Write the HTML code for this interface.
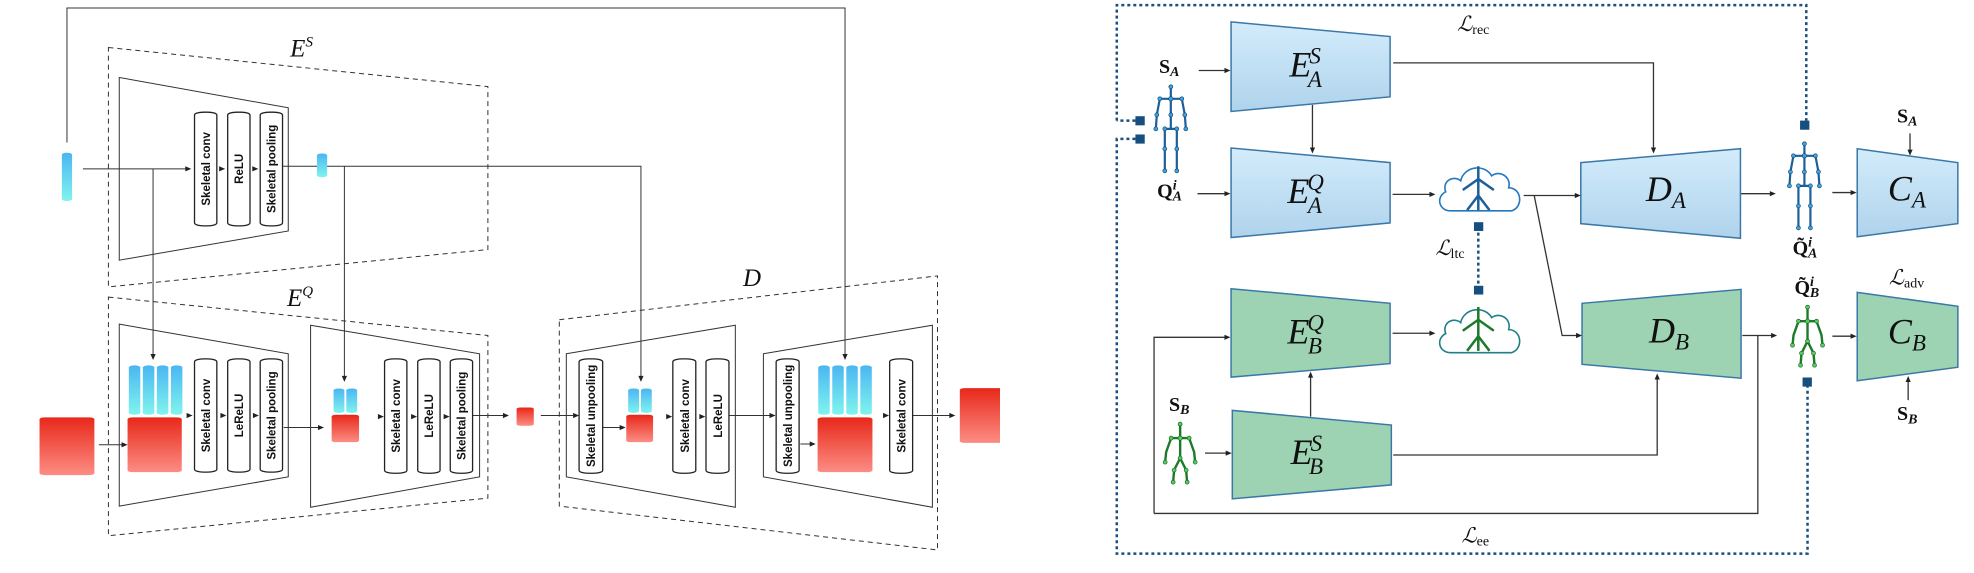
<!DOCTYPE html>
<html><head><meta charset="utf-8"><style>
html,body{margin:0;padding:0;background:#fff;}
svg{position:absolute;top:0;}
.v{font-family:"Liberation Sans",sans-serif;font-weight:bold;font-size:11.5px;fill:#111;}
.m{font-family:"Liberation Serif",serif;font-style:italic;fill:#111;}
.b{font-family:"Liberation Serif",serif;font-weight:bold;fill:#111;}
</style></head><body>
<svg width="1974" height="573" style="left:0" viewBox="0 0 1974 573">
<defs>
<linearGradient id="red" x1="0" y1="0" x2="0" y2="1"><stop offset="0" stop-color="#e8281a"/><stop offset="1" stop-color="#fc8d84"/></linearGradient>
<linearGradient id="blu" x1="0" y1="0" x2="0" y2="1"><stop offset="0" stop-color="#4ab6f2"/><stop offset="1" stop-color="#80f4ee"/></linearGradient>
<path id="ah" d="M0,0 L-6,-2.6 L-6,2.6Z" fill="#222"/>
</defs>
</svg>
<!-- LEFT -->
<svg width="1000" height="573" style="left:0" viewBox="0 0 1568 1568" preserveAspectRatio="none">
<g fill="none" stroke="#333" stroke-width="1">
<polyline points="105,390 105,22 1325,22 1325,980" vector-effect="non-scaling-stroke"/>
<polyline points="130,462 295,462" vector-effect="non-scaling-stroke"/>
<polyline points="240,462 240,980" vector-effect="non-scaling-stroke"/>
<polyline points="443,455 1005,455 1005,1040" vector-effect="non-scaling-stroke"/>
<polyline points="540,455 540,1040" vector-effect="non-scaling-stroke"/>
<g stroke-dasharray="5,4">
<polygon points="170,130 765,237 765,683 170,785" vector-effect="non-scaling-stroke"/>
<polygon points="170,813 765,918 765,1363 170,1466" vector-effect="non-scaling-stroke"/>
<polygon points="877,875 1470,755 1470,1505 877,1385" vector-effect="non-scaling-stroke"/>
</g>
<polygon points="187,212 452,295 452,632 187,712" vector-effect="non-scaling-stroke"/>
<polygon points="187,887 452,968 452,1305 187,1385" vector-effect="non-scaling-stroke"/>
<polygon points="487,890 752,968 752,1305 487,1388" vector-effect="non-scaling-stroke"/>
<polygon points="888,968 1153,890 1153,1388 888,1305" vector-effect="non-scaling-stroke"/>
<polygon points="1197,968 1462,890 1462,1388 1197,1305" vector-effect="non-scaling-stroke"/>
<polyline points="155,1217 198,1217" vector-effect="non-scaling-stroke"/>
<polyline points="445,1170 505,1170" vector-effect="non-scaling-stroke"/>
<polyline points="741,1137 795,1137" vector-effect="non-scaling-stroke"/>
<polyline points="848,1137 905,1137" vector-effect="non-scaling-stroke"/>
<polyline points="945,1170 978,1170" vector-effect="non-scaling-stroke"/>
<polyline points="1143,1137 1215,1137" vector-effect="non-scaling-stroke"/>
<polyline points="1255,1215 1277,1215" vector-effect="non-scaling-stroke"/>
<polyline points="1431,1137 1495,1137" vector-effect="non-scaling-stroke"/>
</g>
<g fill="#fff" stroke="#222" stroke-width="1.3">
<rect x="305" y="307" width="35" height="311" rx="14" ry="8" vector-effect="non-scaling-stroke"/>
<rect x="357" y="307" width="35" height="311" rx="14" ry="8" vector-effect="non-scaling-stroke"/>
<rect x="408" y="307" width="35" height="311" rx="14" ry="8" vector-effect="non-scaling-stroke"/>
<rect x="305" y="982" width="35" height="310" rx="14" ry="8" vector-effect="non-scaling-stroke"/>
<rect x="357" y="982" width="35" height="310" rx="14" ry="8" vector-effect="non-scaling-stroke"/>
<rect x="408" y="982" width="35" height="310" rx="14" ry="8" vector-effect="non-scaling-stroke"/>
<rect x="603" y="982" width="35" height="313" rx="14" ry="8" vector-effect="non-scaling-stroke"/>
<rect x="655" y="982" width="35" height="313" rx="14" ry="8" vector-effect="non-scaling-stroke"/>
<rect x="706" y="982" width="35" height="313" rx="14" ry="8" vector-effect="non-scaling-stroke"/>
<rect x="908" y="982" width="37" height="313" rx="14" ry="8" vector-effect="non-scaling-stroke"/>
<rect x="1055" y="982" width="36" height="313" rx="14" ry="8" vector-effect="non-scaling-stroke"/>
<rect x="1107" y="982" width="36" height="313" rx="14" ry="8" vector-effect="non-scaling-stroke"/>
<rect x="1217" y="982" width="36" height="313" rx="14" ry="8" vector-effect="non-scaling-stroke"/>
<rect x="1395" y="982" width="36" height="313" rx="14" ry="8" vector-effect="non-scaling-stroke"/>
</g>
<g fill="url(#blu)">
<rect x="97" y="418" width="16" height="132" rx="8" ry="5"/>
<rect x="497" y="420" width="16" height="65" rx="8" ry="5"/>
<rect x="202" y="1000" width="18" height="135" rx="9" ry="5"/><rect x="224" y="1000" width="18" height="135" rx="9" ry="5"/><rect x="246" y="1000" width="18" height="135" rx="9" ry="5"/><rect x="268" y="1000" width="18" height="135" rx="9" ry="5"/>
<rect x="523" y="1063" width="17" height="67" rx="8" ry="5"/><rect x="543" y="1063" width="17" height="67" rx="8" ry="5"/>
<rect x="985" y="1063" width="17" height="67" rx="8" ry="5"/><rect x="1005" y="1063" width="17" height="67" rx="8" ry="5"/>
<rect x="1283" y="1000" width="18" height="135" rx="9" ry="5"/><rect x="1305" y="1000" width="18" height="135" rx="9" ry="5"/><rect x="1327" y="1000" width="18" height="135" rx="9" ry="5"/><rect x="1349" y="1000" width="18" height="135" rx="9" ry="5"/>
</g>
<g fill="url(#red)">
<rect x="62" y="1142" width="86" height="158" rx="8" ry="5"/>
<rect x="200" y="1142" width="85" height="150" rx="8" ry="5"/>
<rect x="520" y="1135" width="43" height="75" rx="7" ry="4"/>
<rect x="810" y="1115" width="27" height="50" rx="6" ry="4"/>
<rect x="982" y="1135" width="42" height="75" rx="7" ry="4"/>
<rect x="1282" y="1142" width="86" height="150" rx="8" ry="5"/>
<rect x="1505" y="1062" width="90" height="150" rx="8" ry="5"/>
</g>
<g>
<use href="#ah" transform="translate(300,462) scale(1.568,2.74)"/>
<use href="#ah" transform="translate(353,462) scale(1.568,2.74)"/>
<use href="#ah" transform="translate(405,462) scale(1.568,2.74)"/>
<use href="#ah" transform="translate(240,985) scale(1.568,2.74) rotate(90)"/>
<use href="#ah" transform="translate(540,1045) scale(1.568,2.74) rotate(90)"/>
<use href="#ah" transform="translate(1005,1045) scale(1.568,2.74) rotate(90)"/>
<use href="#ah" transform="translate(1325,985) scale(1.568,2.74) rotate(90)"/>
<use href="#ah" transform="translate(200,1217) scale(1.568,2.74)"/>
<use href="#ah" transform="translate(302,1137) scale(1.568,2.74)"/>
<use href="#ah" transform="translate(355,1137) scale(1.568,2.74)"/>
<use href="#ah" transform="translate(406,1137) scale(1.568,2.74)"/>
<use href="#ah" transform="translate(508,1170) scale(1.568,2.74)"/>
<use href="#ah" transform="translate(602,1140) scale(1.568,2.74)"/>
<use href="#ah" transform="translate(654,1140) scale(1.568,2.74)"/>
<use href="#ah" transform="translate(705,1140) scale(1.568,2.74)"/>
<use href="#ah" transform="translate(798,1137) scale(1.568,2.74)"/>
<use href="#ah" transform="translate(908,1137) scale(1.568,2.74)"/>
<use href="#ah" transform="translate(981,1170) scale(1.568,2.74)"/>
<use href="#ah" transform="translate(1054,1140) scale(1.568,2.74)"/>
<use href="#ah" transform="translate(1106,1140) scale(1.568,2.74)"/>
<use href="#ah" transform="translate(1216,1137) scale(1.568,2.74)"/>
<use href="#ah" transform="translate(1279,1215) scale(1.568,2.74)"/>
<use href="#ah" transform="translate(1394,1137) scale(1.568,2.74)"/>
<use href="#ah" transform="translate(1498,1137) scale(1.568,2.74)"/>
</g>
<g class="v" text-anchor="middle">
<text transform="translate(329,462) scale(1.568,2.74) rotate(-90)">Skeletal conv</text>
<text transform="translate(381,462) scale(1.568,2.74) rotate(-90)">ReLU</text>
<text transform="translate(432,462) scale(1.568,2.74) rotate(-90)">Skeletal pooling</text>
<text transform="translate(329,1137) scale(1.568,2.74) rotate(-90)">Skeletal conv</text>
<text transform="translate(381,1137) scale(1.568,2.74) rotate(-90)">LeReLU</text>
<text transform="translate(432,1137) scale(1.568,2.74) rotate(-90)">Skeletal pooling</text>
<text transform="translate(627,1138) scale(1.568,2.74) rotate(-90)">Skeletal conv</text>
<text transform="translate(679,1138) scale(1.568,2.74) rotate(-90)">LeReLU</text>
<text transform="translate(730,1138) scale(1.568,2.74) rotate(-90)">Skeletal pooling</text>
<text transform="translate(933,1138) scale(1.568,2.74) rotate(-90)">Skeletal unpooling</text>
<text transform="translate(1080,1138) scale(1.568,2.74) rotate(-90)">Skeletal conv</text>
<text transform="translate(1132,1138) scale(1.568,2.74) rotate(-90)">LeReLU</text>
<text transform="translate(1242,1138) scale(1.568,2.74) rotate(-90)">Skeletal unpooling</text>
<text transform="translate(1420,1138) scale(1.568,2.74) rotate(-90)">Skeletal conv</text>
</g>
<g class="m" font-size="25">
<text transform="translate(455,155) scale(1.568,2.74)">E<tspan font-size="15" dy="-10">S</tspan></text>
<text transform="translate(450,838) scale(1.568,2.74)">E<tspan font-size="15" dy="-10">Q</tspan></text>
<text transform="translate(1165,782) scale(1.568,2.74)">D</text>
</g>
</svg>
<!-- RIGHT -->
<svg width="974" height="573" style="left:1000px" viewBox="0 0 1568 1568" preserveAspectRatio="none">
<defs>
<g id="skb"><g stroke="#1d5f99" stroke-width="2.2" fill="none" stroke-linecap="round">
<path d="M0,2 V44 M-11,14 H11 M-11,14 L-14,30 L-15,44 M11,14 L14,30 L15,44 M-6,44 H6 M-6,44 L-6,64 L-6,86 M6,44 L6,64 L6,86"/></g>
<g fill="#3fa3e0" stroke="#0d3e66" stroke-width="0.6"><circle cx="0" cy="2" r="2"/><circle cx="0" cy="14" r="2.2"/><circle cx="-11" cy="14" r="2"/><circle cx="11" cy="14" r="2"/><circle cx="-14" cy="30" r="2"/><circle cx="14" cy="30" r="2"/><circle cx="-15" cy="44" r="2"/><circle cx="15" cy="44" r="2"/><circle cx="0" cy="30" r="2"/><circle cx="-6" cy="44" r="2"/><circle cx="6" cy="44" r="2"/><circle cx="-6" cy="64" r="2"/><circle cx="6" cy="64" r="2"/><circle cx="-6" cy="86" r="2"/><circle cx="6" cy="86" r="2"/></g></g>
<g id="skg"><g stroke="#1e7a2a" stroke-width="2.4" fill="none" stroke-linecap="round">
<path d="M0,2 V36 M-9,16 H9 M-9,16 L-14,30 L-15,40 M9,16 L14,30 L15,40 M0,36 L-6,48 L-7,60 M0,36 L6,48 L7,60"/></g>
<g fill="#4fd05a" stroke="#16551e" stroke-width="0.6"><circle cx="0" cy="2" r="2"/><circle cx="0" cy="16" r="2.2"/><circle cx="-9" cy="16" r="2"/><circle cx="9" cy="16" r="2"/><circle cx="-15" cy="40" r="2"/><circle cx="15" cy="40" r="2"/><circle cx="0" cy="36" r="2"/><circle cx="-6" cy="48" r="2"/><circle cx="6" cy="48" r="2"/><circle cx="-7" cy="60" r="2"/><circle cx="7" cy="60" r="2"/></g></g>
<path id="cl" d="M14,50 C2,50 -1,36 9,31 C5,20 17,14 24,20 C27,6 47,2 55,15 C63,9 75,16 72,27 C85,27 87,46 75,50 Z"/>
<linearGradient id="lg" x1="0" y1="0" x2="0" y2="1"><stop offset="0" stop-color="#d3ecfb"/><stop offset="1" stop-color="#afd3ec"/></linearGradient>
</defs>
<g fill="none" stroke="#1a4f7e" stroke-width="2.5" stroke-dasharray="3,3">
<polyline points="188,330 188,14 1298,14 1298,330" vector-effect="non-scaling-stroke"/>
<polyline points="218,330 188,330" vector-effect="non-scaling-stroke"/>
<polyline points="218,380 188,380 188,1515 1300,1515 1300,1045" vector-effect="non-scaling-stroke"/>
<polyline points="770,620 770,795" vector-effect="non-scaling-stroke"/>
</g>
<g fill="#154f80">
<rect x="218" y="318" width="15" height="25"/><rect x="218" y="368" width="15" height="25"/>
<rect x="1288" y="330" width="15" height="25"/><rect x="1292" y="1033" width="15" height="25"/>
<rect x="763" y="608" width="15" height="24"/><rect x="763" y="782" width="15" height="24"/>
</g>
<g stroke="#3a78a8" stroke-width="1.5">
<polygon fill="url(#lg)" points="372,60 628,100 628,265 372,305" vector-effect="non-scaling-stroke"/>
<polygon fill="url(#lg)" points="372,405 628,445 628,610 372,650" vector-effect="non-scaling-stroke"/>
<polygon fill="url(#lg)" points="935,445 1192,407 1192,652 935,612" vector-effect="non-scaling-stroke"/>
<polygon fill="url(#lg)" points="1380,407 1542,445 1542,612 1380,648" vector-effect="non-scaling-stroke"/>
<polygon fill="#9dd3b2" points="372,790 628,830 628,995 372,1032" vector-effect="non-scaling-stroke"/>
<polygon fill="#9dd3b2" points="374,1123 630,1163 630,1327 374,1365" vector-effect="non-scaling-stroke"/>
<polygon fill="#9dd3b2" points="937,830 1193,792 1193,1035 937,997" vector-effect="non-scaling-stroke"/>
<polygon fill="#9dd3b2" points="1380,800 1542,838 1542,1005 1380,1042" vector-effect="non-scaling-stroke"/>
</g>
<g fill="none" stroke="#333" stroke-width="1.3">
<polyline points="320,193 366,193" vector-effect="non-scaling-stroke"/>
<polyline points="318,530 366,530" vector-effect="non-scaling-stroke"/>
<polyline points="503,287 503,415" vector-effect="non-scaling-stroke"/>
<polyline points="633,172 1052,172 1052,415" vector-effect="non-scaling-stroke"/>
<polyline points="632,532 696,532" vector-effect="non-scaling-stroke"/>
<polyline points="843,535 930,535" vector-effect="non-scaling-stroke"/>
<polyline points="860,535 905,918 932,918" vector-effect="non-scaling-stroke"/>
<polyline points="1193,530 1244,530" vector-effect="non-scaling-stroke"/>
<polyline points="1340,527 1374,527" vector-effect="non-scaling-stroke"/>
<polyline points="1465,365 1465,420" vector-effect="non-scaling-stroke"/>
<polyline points="248,1405 248,923 366,923" vector-effect="non-scaling-stroke"/>
<polyline points="632,912 696,912" vector-effect="non-scaling-stroke"/>
<polyline points="500,1140 500,1022" vector-effect="non-scaling-stroke"/>
<polyline points="633,1245 1058,1245 1058,1027" vector-effect="non-scaling-stroke"/>
<polyline points="330,1240 368,1240" vector-effect="non-scaling-stroke"/>
<polyline points="1195,918 1246,918" vector-effect="non-scaling-stroke"/>
<polyline points="1220,918 1220,1405 248,1405" vector-effect="non-scaling-stroke"/>
<polyline points="1340,920 1374,920" vector-effect="non-scaling-stroke"/>
<polyline points="1462,1095 1462,1035" vector-effect="non-scaling-stroke"/>
</g>
<g>
<use href="#ah" transform="translate(371,193) scale(1.61,2.74)"/>
<use href="#ah" transform="translate(371,530) scale(1.61,2.74)"/>
<use href="#ah" transform="translate(503,420) scale(1.61,2.74) rotate(90)"/>
<use href="#ah" transform="translate(1052,420) scale(1.61,2.74) rotate(90)"/>
<use href="#ah" transform="translate(701,532) scale(1.61,2.74)"/>
<use href="#ah" transform="translate(935,535) scale(1.61,2.74)"/>
<use href="#ah" transform="translate(937,918) scale(1.61,2.74)"/>
<use href="#ah" transform="translate(1249,530) scale(1.61,2.74)"/>
<use href="#ah" transform="translate(1379,527) scale(1.61,2.74)"/>
<use href="#ah" transform="translate(1465,426) scale(1.61,2.74) rotate(90)"/>
<use href="#ah" transform="translate(371,923) scale(1.61,2.74)"/>
<use href="#ah" transform="translate(701,912) scale(1.61,2.74)"/>
<use href="#ah" transform="translate(500,1017) scale(1.61,2.74) rotate(-90)"/>
<use href="#ah" transform="translate(1058,1022) scale(1.61,2.74) rotate(-90)"/>
<use href="#ah" transform="translate(373,1240) scale(1.61,2.74)"/>
<use href="#ah" transform="translate(1251,918) scale(1.61,2.74)"/>
<use href="#ah" transform="translate(1379,920) scale(1.61,2.74)"/>
<use href="#ah" transform="translate(1462,1029) scale(1.61,2.74) rotate(-90)"/>
</g>
<use href="#cl" transform="translate(703,440) scale(1.61,2.74)" fill="#fff" stroke="#2378c0" stroke-width="1.6"/>
<use href="#cl" transform="translate(703,828) scale(1.61,2.74)" fill="#fff" stroke="#1f7f86" stroke-width="1.6"/>
<path d="M770,455 L770,575 M770,490 L745,520 M770,490 L795,520 M770,535 L752,575 M770,535 L788,575" fill="none" stroke="#1d5f99" stroke-width="2.5" vector-effect="non-scaling-stroke"/>
<path d="M770,840 L770,960 M770,875 L745,905 M770,875 L795,905 M770,920 L752,960 M770,920 L788,960" fill="none" stroke="#1e7a2a" stroke-width="2.5" vector-effect="non-scaling-stroke"/>
<use href="#skb" transform="translate(275,232) scale(1.61,2.74)"/>
<use href="#skb" transform="translate(1295,388) scale(1.61,2.74)"/>
<use href="#skg" transform="translate(290,1155) scale(1.61,2.74)"/>
<use href="#skg" transform="translate(1300,835) scale(1.61,2.74)"/>
<g class="m" font-size="36" text-anchor="middle">
<text transform="translate(492,210) scale(1.61,2.74)">E<tspan font-size="23" dx="-2" dy="-13">S</tspan><tspan font-size="23" dx="-13" dy="23">A</tspan></text>
<text transform="translate(492,555) scale(1.61,2.74)">E<tspan font-size="23" dx="-2" dy="-13">Q</tspan><tspan font-size="23" dx="-16" dy="23">A</tspan></text>
<text transform="translate(492,940) scale(1.61,2.74)">E<tspan font-size="23" dx="-2" dy="-13">Q</tspan><tspan font-size="23" dx="-16" dy="23">B</tspan></text>
<text transform="translate(494,1270) scale(1.61,2.74)">E<tspan font-size="23" dx="-2" dy="-13">S</tspan><tspan font-size="23" dx="-13" dy="23">B</tspan></text>
<text transform="translate(1072,550) scale(1.61,2.74)">D<tspan font-size="23" dy="7">A</tspan></text>
<text transform="translate(1077,937) scale(1.61,2.74)">D<tspan font-size="23" dy="7">B</tspan></text>
<text transform="translate(1460,548) scale(1.61,2.74)">C<tspan font-size="23" dy="7">A</tspan></text>
<text transform="translate(1460,940) scale(1.61,2.74)">C<tspan font-size="23" dy="7">B</tspan></text>
</g>
<g font-size="20">
<text class="b" transform="translate(256,200) scale(1.61,2.74)">S<tspan class="m" font-size="14" dy="3">A</tspan></text>
<text class="b" transform="translate(253,540) scale(1.61,2.74)">Q<tspan class="m" font-size="14" dy="-8">i</tspan><tspan class="m" font-size="14" dx="-4" dy="11">A</tspan></text>
<text class="b" transform="translate(272,1125) scale(1.61,2.74)">S<tspan class="m" font-size="14" dy="3">B</tspan></text>
<text class="b" transform="translate(1444,335) scale(1.61,2.74)">S<tspan class="m" font-size="14" dy="3">A</tspan></text>
<text class="b" transform="translate(1444,1150) scale(1.61,2.74)">S<tspan class="m" font-size="14" dy="3">B</tspan></text>
<text class="b" transform="translate(1276,697) scale(1.61,2.74)">Q̃<tspan class="m" font-size="14" dy="-8">i</tspan><tspan class="m" font-size="14" dx="-4" dy="11">A</tspan></text>
<text class="b" transform="translate(1279,805) scale(1.61,2.74)">Q̃<tspan class="m" font-size="14" dy="-8">i</tspan><tspan class="m" font-size="14" dx="-4" dy="11">B</tspan></text>
</g>
<g class="m" font-size="21">
<text transform="translate(736,85) scale(1.61,2.74)">ℒ<tspan font-style="normal" font-size="14" dy="3">rec</tspan></text>
<text transform="translate(701,698) scale(1.61,2.74)">ℒ<tspan font-style="normal" font-size="14" dy="3">ltc</tspan></text>
<text transform="translate(743,1485) scale(1.61,2.74)">ℒ<tspan font-style="normal" font-size="14" dy="3">ee</tspan></text>
<text transform="translate(1431,778) scale(1.61,2.74)">ℒ<tspan font-style="normal" font-size="14" dy="3">adv</tspan></text>
</g>
</svg>
</body></html>
